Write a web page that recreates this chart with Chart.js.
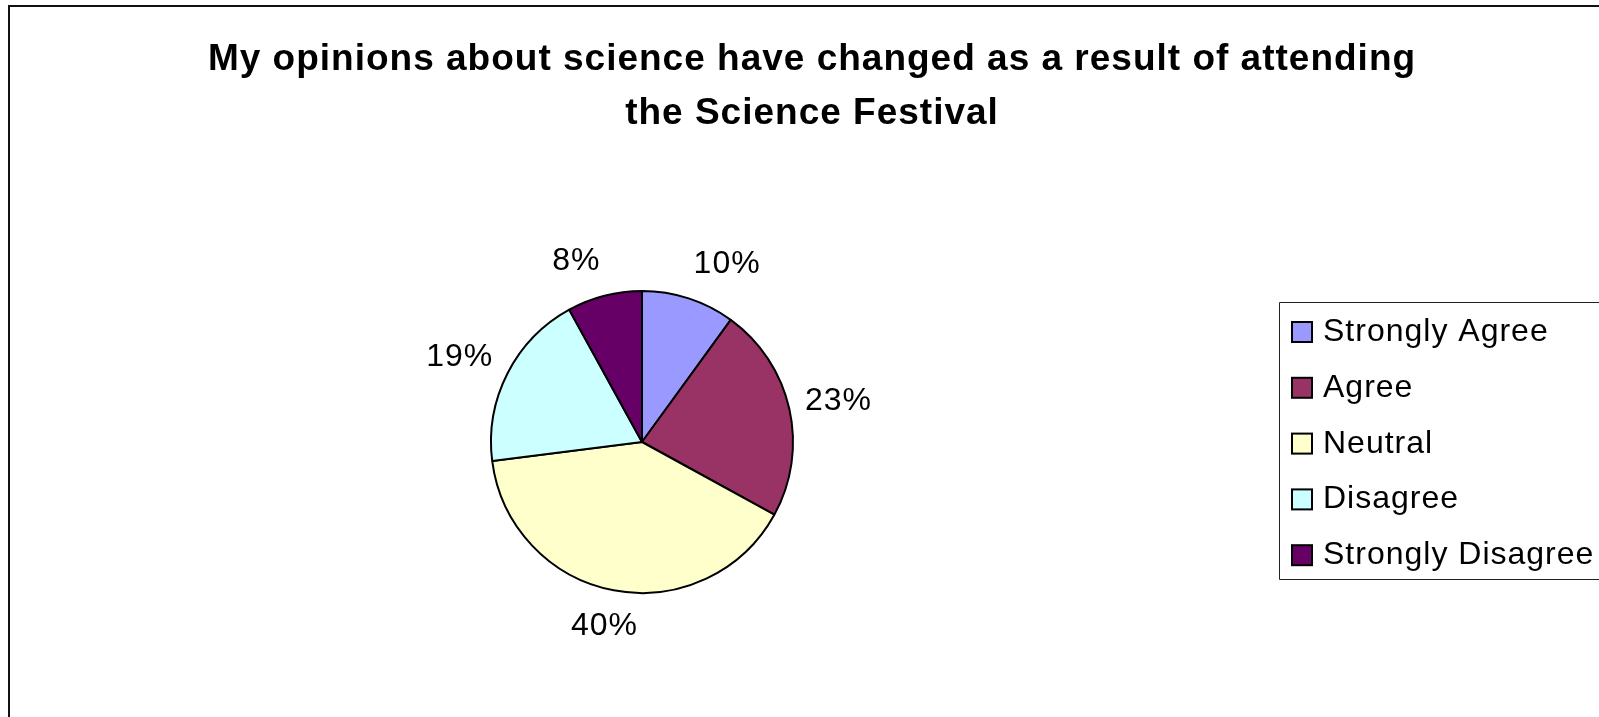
<!DOCTYPE html>
<html>
<head>
<meta charset="utf-8">
<script src="https://cdn.jsdelivr.net/npm/chart.js@4/dist/chart.umd.min.js"></script>
<style>
    html, body { margin: 0; padding: 0; background: #fff; }
    canvas { display: block; }
</style>
</head>
<body>
<canvas id="chart-opinions" width="1599" height="717"></canvas>
<script>
let titleLines = [
    "My opinions about science have changed as a result of attending",
    "the Science Festival"
];
let categories = ["Strongly Agree", "Agree", "Neutral", "Disagree", "Strongly Disagree"];
let percentages = [10, 23, 40, 19, 8];
let sliceColors = ["#9999FF", "#993366", "#FFFFCC", "#CCFFFF", "#660066"];

const FONT = "'Liberation Sans', Arial, sans-serif";

window.OpinionChart = (function(Chart) {
    // outer frame of the chart object, runs off the right and bottom edges
    let framePlugin = {
        id: "frame",
        beforeDraw: function(chart) {
            const ctx = chart.ctx;
            ctx.save();
            ctx.fillStyle = "#fff";
            ctx.fillRect(0, 0, chart.width, chart.height);
            ctx.strokeStyle = "#111";
            ctx.lineWidth = 2;
            ctx.beginPath();
            ctx.moveTo(9, chart.height + 5);
            ctx.lineTo(9, 6);
            ctx.lineTo(chart.width + 5, 6);
            ctx.stroke();
            ctx.restore();
        }
    };

    let titlePlugin = {
        id: "twoLineTitle",
        afterDraw: function(chart) {
            const ctx = chart.ctx;
            ctx.save();
            ctx.fillStyle = "#000";
            ctx.font = "bold 37px " + FONT;
            ctx.letterSpacing = "1px";
            ctx.textAlign = "center";
            ctx.textBaseline = "alphabetic";
            titleLines.forEach(function(line, i) {
                ctx.fillText(line, 812, 70 + i * 54);
            });
            ctx.restore();
        }
    };

    // percentage labels outside each slice: upper labels sit beside the
    // anchor point, lower ones are centred along the slice's mid angle
    let sliceLabelPlugin = {
        id: "sliceLabels",
        afterDatasetsDraw: function(chart) {
            const ctx = chart.ctx;
            const meta = chart.getDatasetMeta(0);
            const values = chart.data.datasets[0].data;
            ctx.save();
            ctx.fillStyle = "#000";
            ctx.font = "32px " + FONT;
            ctx.letterSpacing = "1px";
            ctx.textAlign = "center";
            ctx.textBaseline = "middle";
            meta.data.forEach(function(arc, i) {
                const mid = (arc.startAngle + arc.endAngle) / 2;
                const dx = Math.cos(mid);
                const dy = Math.sin(mid);
                const text = values[i] + "%";
                const w = ctx.measureText(text).width;
                const dist = arc.outerRadius + 16;
                const sideX = dy < 0 ? Math.sign(dx) * w / 2 : dx * w / 2;
                const x = arc.x + dx * dist + sideX;
                const y = arc.y + dy * dist + dy * 20;
                ctx.fillText(text, x, y);
            });
            ctx.restore();
        }
    };

    let legendPlugin = {
        id: "boxLegend",
        afterDraw: function(chart) {
            const ctx = chart.ctx;
            const ds = chart.data.datasets[0];
            const left = 1279.5;
            const top = 302.5;
            const bottom = 579.5;
            ctx.save();
            ctx.strokeStyle = "#222";
            ctx.lineWidth = 1;
            ctx.beginPath();
            ctx.moveTo(chart.width + 5, top);
            ctx.lineTo(left, top);
            ctx.lineTo(left, bottom);
            ctx.lineTo(chart.width + 5, bottom);
            ctx.stroke();

            ctx.font = "32px " + FONT;
            ctx.letterSpacing = "1px";
            ctx.textAlign = "left";
            ctx.textBaseline = "alphabetic";
            chart.data.labels.forEach(function(label, i) {
                const cy = 332 + i * 55.8;
                ctx.fillStyle = ds.backgroundColor[i];
                ctx.fillRect(1292, cy - 10, 20, 20);
                ctx.strokeStyle = "#000";
                ctx.lineWidth = 2;
                ctx.strokeRect(1292, cy - 10, 20, 20);
                ctx.fillStyle = "#000";
                ctx.fillText(label, 1323, cy + 9);
            });
            ctx.restore();
        }
    };

    function init() {
        const context = document.getElementById("chart-opinions");
        return new Chart(context, {
            type: "pie",
            data: {
                labels: categories,
                datasets: [{
                    data: percentages,
                    backgroundColor: sliceColors,
                    borderColor: "#000",
                    borderWidth: 2,
                    hoverOffset: 0
                }]
            },
            options: {
                responsive: false,
                animation: false,
                radius: 151,
                layout: {
                    padding: {left: 442, right: 757, top: 242, bottom: 75}
                },
                plugins: {
                    legend: {display: false},
                    title: {display: false},
                    tooltip: {enabled: false}
                }
            },
            plugins: [framePlugin, sliceLabelPlugin, titlePlugin, legendPlugin]
        });
    }

    return {init: init};
}(window.Chart));

window.OpinionChart.init();
</script>
</body>
</html>
